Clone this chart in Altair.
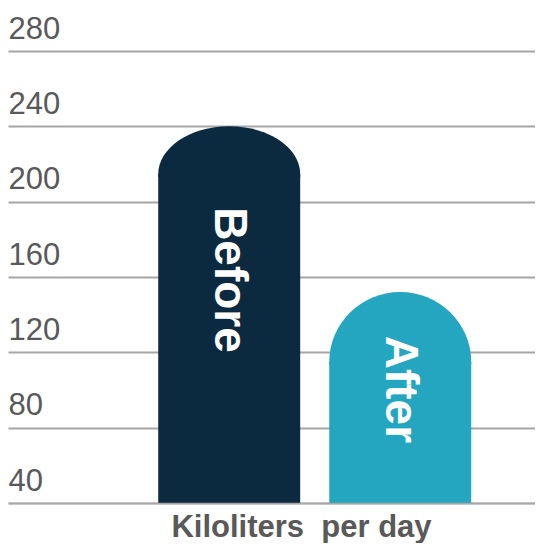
import altair as alt
import pandas as pd

# ---- data ----
categories = ["Before", "After"]
values = [240, 152]
y_ticks = [40, 80, 120, 160, 200, 240, 280]
x_title = "Kiloliters\u00a0 per day"

# ---- styles ----
colors = ["#0B2A40", "#24A5C0"]
cap_px = [48, 70]          # height of the rounded top, in pixels
half_w = 71                # half of the bar width, in pixels
FONT = "Liberation Sans"
GREY = "#595959"
GRID = "#A6A6A6"

df = pd.DataFrame({"group": categories, "value": values})

x_scale = alt.Scale(domain=categories, paddingInner=0.17, paddingOuter=0.6256, align=0.702)
y_scale = alt.Scale(domain=[40, 280], nice=False, zero=False)

x_axis = alt.Axis(
    labels=False, ticks=False, grid=False,
    domain=True, domainColor=GRID, domainWidth=2, domainOpacity=0.5,
    title=x_title, titleFont=FONT, titleFontSize=31, titleFontWeight="bold",
    titleColor=GREY, titleX=293, titleY=33, titleAlign="center",
    titleBaseline="alphabetic", zindex=1,
)
y_axis = alt.Axis(
    values=y_ticks, title=None, domain=False, ticks=False,
    grid=True, gridColor=GRID, gridWidth=2,
    labelAlign="left", labelPadding=0, labelBaseline="alphabetic",
    labelOffset=-13, labelFont=FONT, labelFontSize=31, labelColor=GREY,
)

x_enc = alt.X("group:N", scale=x_scale, axis=x_axis)


def cap_path(c):
    r = c / half_w
    k = r * 0.448
    return (f"M-1,{r + 0.04:.3f}L-1,{r:.3f}C-1,{k:.3f} -0.552,0 0,0"
            f"C0.552,0 1,{k:.3f} 1,{r:.3f}L1,{r + 0.04:.3f}Z")


layers = []
for cat, col, cap in zip(categories, colors, cap_px):
    base = alt.Chart(df).transform_filter(alt.datum.group == cat)
    rect = base.mark_bar(color=col, yOffset=cap).encode(
        x=x_enc,
        y=alt.Y("value:Q", scale=y_scale, axis=y_axis),
        y2=alt.datum(40),
    )
    top = base.mark_point(
        shape=cap_path(cap), filled=True, size=(2 * half_w) ** 2,
        opacity=1, color=col, strokeWidth=0,
    ).encode(
        x=x_enc,
        y=alt.Y("value:Q", scale=y_scale, axis=y_axis),
    )
    layers += [rect, top]

labels = alt.Chart(df).transform_calculate(
    label_y="datum.value * 0.66"
).mark_text(
    angle=90, align="center", baseline="middle", color="white",
    font=FONT, fontSize=46, fontWeight="bold",
).encode(
    x=x_enc,
    y=alt.Y("label_y:Q", scale=y_scale, axis=y_axis),
    text="group:N",
)
layers.append(labels)

chart = alt.layer(*layers).properties(
    width=527, height=452,
    autosize=alt.AutoSizeParams(type="none"),
    padding={"left": 0, "top": 43, "right": 0, "bottom": 40},
    background="white",
).configure_view(stroke=None)

chart.save("out.html", embed_options={"renderer": "svg", "actions": False})
